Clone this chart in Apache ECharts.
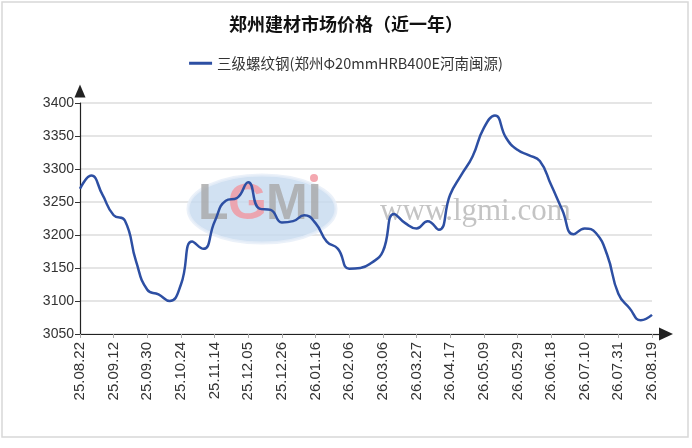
<!DOCTYPE html>
<html>
<head>
<meta charset="utf-8">
<script src="https://cdn.jsdelivr.net/npm/echarts@6/dist/echarts.min.js"></script>
<style>
html,body{margin:0;padding:0;background:#fff;}
#main{width:692px;height:448px;}
</style>
</head>
<body>
<div id="main"></div>
<script>
var titleText = '郑州建材市场价格（近一年）';
var seriesName = '三级螺纹钢(郑州Φ20mmHRB400E河南闽源)';
// 周度日期
var dates = [
    '25.08.22','25.08.29','25.09.05','25.09.12','25.09.19','25.09.26','25.09.30','25.10.10','25.10.17','25.10.24',
    '25.10.31','25.11.07','25.11.14','25.11.21','25.11.28','25.12.05','25.12.12','25.12.19','25.12.26','25.12.31',
    '26.01.09','26.01.16','26.01.23','26.01.30','26.02.06','26.02.13','26.02.27','26.03.06','26.03.13','26.03.20',
    '26.03.27','26.04.03','26.04.10','26.04.17','26.04.24','26.04.30','26.05.09','26.05.15','26.05.22','26.05.29',
    '26.06.05','26.06.12','26.06.18','26.06.26','26.07.03','26.07.10','26.07.17','26.07.24','26.07.31','26.08.07',
    '26.08.14','26.08.19'
];
// 价格 元/吨
var prices = [
    3270,3290,3261,3230,3222,3160,3117,3110,3100,3125,
    3190,3179,3220,3252,3256,3280,3240,3238,3219,3221,
    3230,3218,3190,3179,3149,3150,3158,3175,3232,3218,
    3210,3221,3208,3261,3291,3319,3362,3381,3347,3329,
    3321,3312,3276,3238,3201,3210,3203,3170,3111,3089,
    3071,3079
];
var yMin = 3050, yMax = 3400, yStep = 50;

var chart = echarts.init(document.getElementById('main'));
var latin = '"Liberation Sans", Arial, "Noto Sans CJK SC", sans-serif';
chart.setOption({
    backgroundColor: '#fff',
    animation: false,
    title: {
        text: titleText,
        left: 'center',
        top: 10,
        textStyle: {fontSize: 18, fontWeight: 'bold', color: '#111', fontFamily: '"Noto Sans CJK SC", sans-serif'}
    },
    legend: {
        top: 51,
        left: 'center',
        icon: 'rect',
        itemWidth: 23,
        itemHeight: 3,
        itemGap: 8,
        textStyle: {fontSize: 14.5, color: '#333', fontFamily: '"Noto Sans CJK SC", sans-serif'},
        data: [seriesName]
    },
    grid: {left: 80, right: 40, top: 103, bottom: 114, containLabel: false},
    xAxis: {
        type: 'category',
        data: dates,
        boundaryGap: false,
        axisLine: {lineStyle: {color: '#222', width: 1.2}, symbol: ['none', 'triangle'], symbolSize: [13, 14], symbolOffset: [0, 14]},
        axisTick: {interval: 2, length: 4, lineStyle: {color: '#aaa'}},
        axisLabel: {interval: 2, rotate: 90, fontSize: 15, color: '#333', margin: 8, fontFamily: latin},
        splitLine: {show: false}
    },
    yAxis: {
        type: 'value',
        min: yMin,
        max: yMax,
        interval: yStep,
        axisLine: {show: true, lineStyle: {color: '#222', width: 1.2}, symbol: ['none', 'triangle'], symbolSize: [11, 13], symbolOffset: [0, 12]},
        axisTick: {show: true, length: 5, lineStyle: {color: '#333'}},
        axisLabel: {fontSize: 14, color: '#333', margin: 6, fontFamily: latin, formatter: function (v) { return String(v); }},
        splitLine: {lineStyle: {color: '#ddd', width: 1.5}}
    },
    graphic: [
        {type: 'rect', shape: {x: 2, y: 2, width: 686, height: 435}, style: {fill: 'none', stroke: '#d8d8d8', lineWidth: 1.5}, z: -10, silent: true},
        {type: 'line', shape: {x1: 652, y1: 334.5, x2: 661, y2: 334.5}, style: {stroke: '#222', lineWidth: 1.2}, silent: true},
        {type: 'ellipse', shape: {cx: 262, cy: 209, rx: 74, ry: 34}, style: {fill: '#c6d9ef', stroke: '#e6eef8', lineWidth: 3, opacity: 0.8}, z: 1, silent: true},
        {type: 'text', left: 198, top: 180, style: {text: 'L', font: 'bold 50px "Liberation Sans"', fill: '#a8a8a8', opacity: 0.8}, z: 1, silent: true},
        {type: 'text', left: 228, top: 180, style: {text: 'G', font: 'bold 50px "Liberation Sans"', fill: '#f09aa4', opacity: 0.85}, z: 1, silent: true},
        {type: 'text', left: 266, top: 180, style: {text: 'MI', font: 'bold 50px "Liberation Sans"', fill: '#a8a8a8', opacity: 0.8}, z: 1, silent: true},
        {type: 'circle', shape: {cx: 314, cy: 178, r: 4}, style: {fill: '#f4a8b0'}, z: 1, silent: true},
        {type: 'text', left: 380, top: 196, style: {text: 'www.lgmi.com', font: '31px "Liberation Serif"', fill: '#c4c4c4'}, z: 1, silent: true}
    ],
    series: [{
        name: seriesName,
        type: 'line',
        data: prices,
        smooth: 0.5,
        showSymbol: false,
        lineStyle: {color: '#2d4fa3', width: 2.5},
        itemStyle: {color: '#2d4fa3'},
        z: 3
    }]
});
</script>
</body>
</html>
